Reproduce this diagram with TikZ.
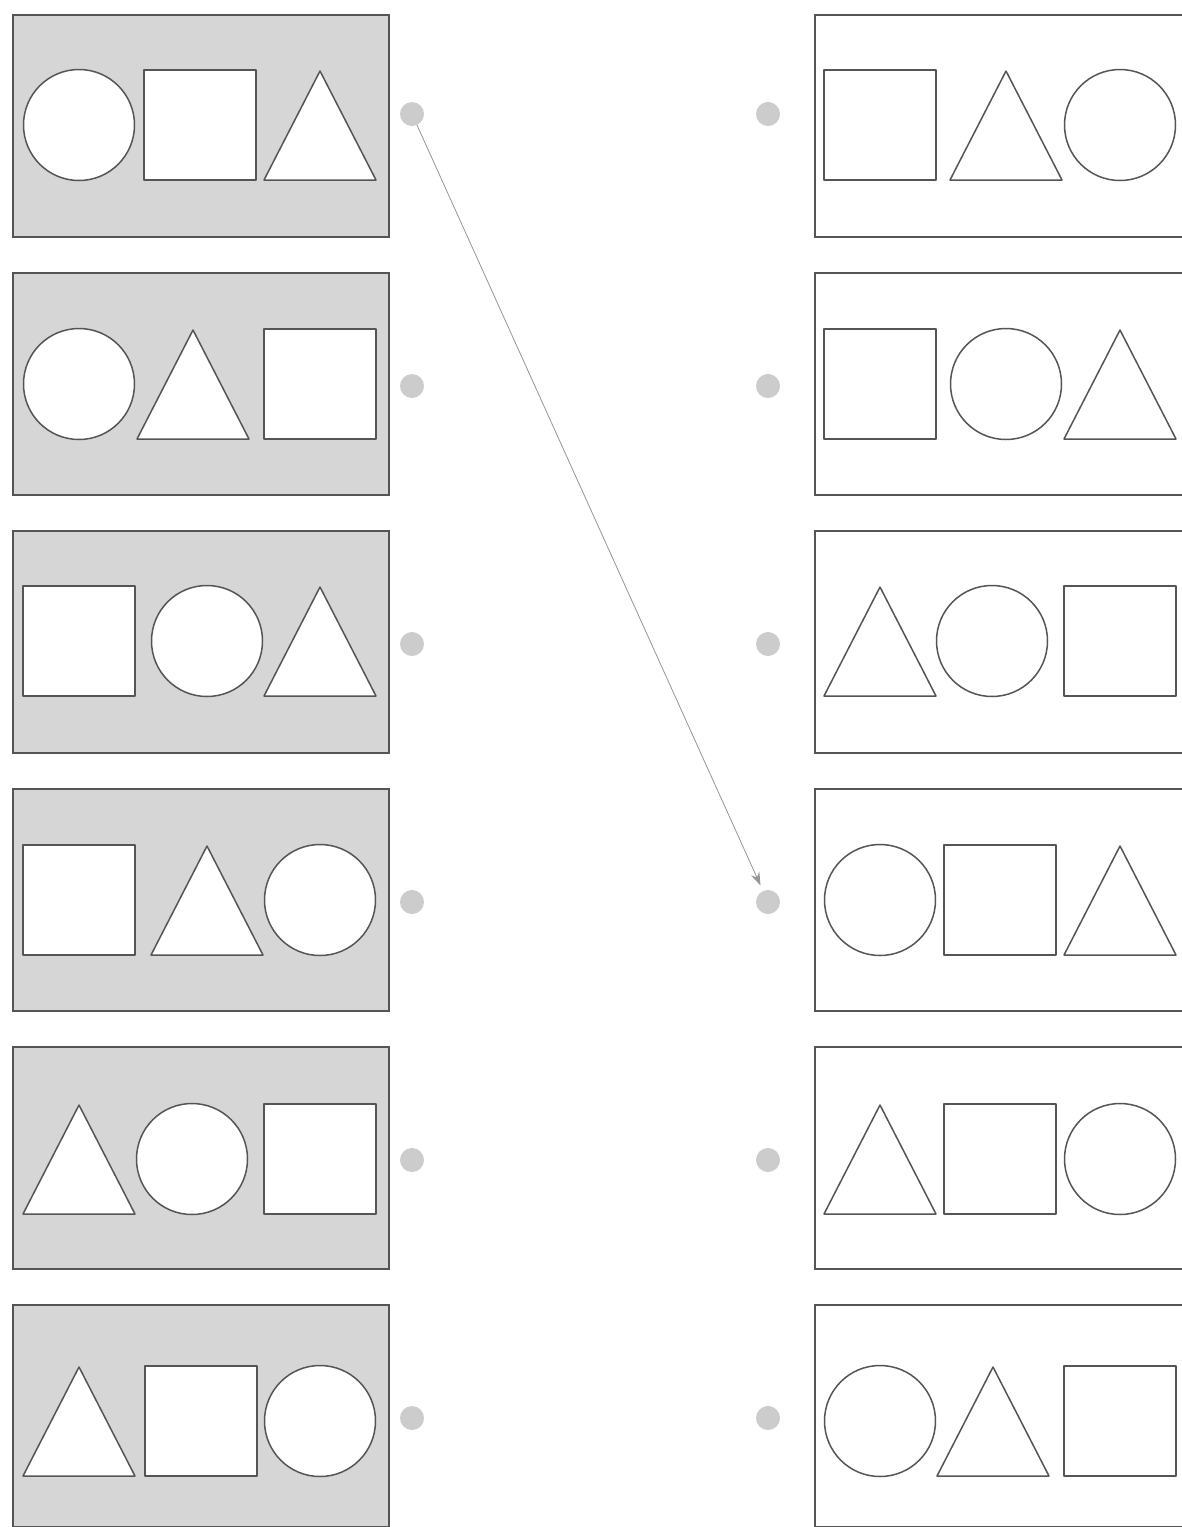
\documentclass[tikz,border=0pt]{standalone}
\usetikzlibrary{arrows.meta}
\definecolor{panelgray}{RGB}{214,214,214}
\definecolor{edgegray}{RGB}{85,85,85}
\definecolor{dotgray}{RGB}{204,204,204}
\definecolor{linkgray}{RGB}{150,150,150}
\newcommand{\shpC}[3]{\node[shp,circle,minimum size=111pt] (#1) at (#2,#3) {};}
\newcommand{\shpS}[3]{\node[shp,rectangle,minimum width=112pt,minimum height=110pt] (#1) at (#2,#3) {};}
\newcommand{\shpT}[3]{\coordinate (#1) at (#2,#3); \draw[shp] (#2-56,#3+55) -- (#2,#3-54) -- (#2+56,#3+55) -- cycle;}
\tikzset{
  lbox/.style={draw=edgegray,fill=panelgray,line width=2pt,minimum width=376pt,minimum height=222pt,anchor=north west,inner sep=0pt},
  rbox/.style={lbox,fill=white,minimum width=400pt},
  shp/.style={draw=edgegray,fill=white,line width=1.5pt,inner sep=0pt,line join=round},
  mdot/.style={circle,fill=dotgray,minimum size=24pt,inner sep=0pt},
  link/.style={draw=linkgray,line width=0.8pt,-{Stealth[length=13pt,width=9pt]},shorten >=6pt}
}

\begin{document}
\begin{tikzpicture}[x=1pt,y=-1pt]
  \clip (0,0) rectangle (1182,1527);
  \fill[white] (0,0) rectangle (1182,1527);
  % rows: top / shape y / dot y / middle x left, right / left order / right order
  \foreach \t/\s/\d/\m/\n/\a/\b/\c/\p/\q/\r [count=\i] in {
      14/125/114/200/1006/C/S/T/S/T/C,
      272/384/386/193/1006/C/T/S/S/C/T,
      530/641/644/207/992/S/C/T/T/C/S,
      788/900/902/207/1000/S/T/C/C/S/T,
      1046/1159/1160/192/1000/T/C/S/T/S/C,
      1304/1421/1418/201/993/T/S/C/C/T/S}{
    \node[lbox] (l\i) at (12,\t) {};
    \node[rbox] (r\i) at (814,\t) {};
    \csname shp\a\endcsname{la\i}{79}{\s}
    \csname shp\b\endcsname{lb\i}{\m}{\s}
    \csname shp\c\endcsname{lc\i}{320}{\s}
    \csname shp\p\endcsname{ra\i}{880}{\s}
    \csname shp\q\endcsname{rb\i}{\n}{\s}
    \csname shp\r\endcsname{rc\i}{1120}{\s}
    \node[mdot] (ld\i) at (412,\d) {};
    \node[mdot] (rd\i) at (768,\d) {};
  }
  \draw[link] (ld1) -- (rd4);
\end{tikzpicture}
\end{document}
